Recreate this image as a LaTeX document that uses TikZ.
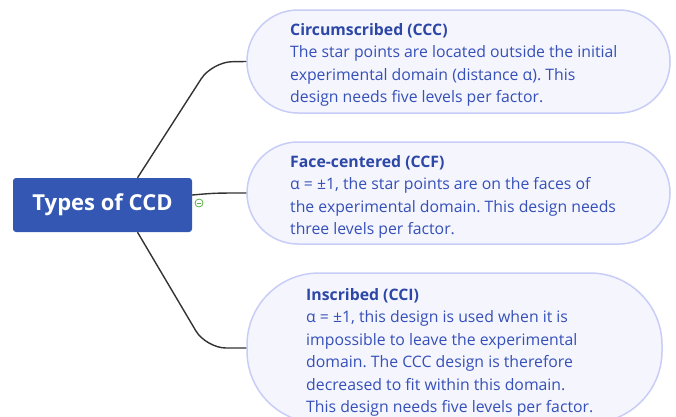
\documentclass[tikz,border=0pt]{standalone}
\usepackage{fontspec}
\setmainfont{Open Sans}
\usetikzlibrary{calc}
\definecolor{hubblue}{HTML}{3457B3}
\definecolor{bubfill}{HTML}{F5F5FE}
\definecolor{bubedge}{HTML}{C8CDF7}
\definecolor{txtblue}{HTML}{3550B8}
\definecolor{ttlblue}{HTML}{2C47A6}
\definecolor{linkgray}{HTML}{333333}
\definecolor{togglegreen}{HTML}{5DAF4C}
\tikzset{
  hub/.style={fill=hubblue, rounded corners=3pt, inner sep=0pt,
    minimum width=179pt, minimum height=54pt, text=white,
    font=\fontsize{22}{26}\selectfont\bfseries},
  bubble/.style={draw=bubedge, fill=bubfill, line width=1.5pt, inner sep=0pt},
  bodytext/.style={anchor=north west, inner sep=0pt, align=left, text=txtblue,
    font=\fontsize{15.8}{22.5}\selectfont},
  link/.style={draw=linkgray, line width=1.4pt, rounded corners=20pt},
}
\newcommand{\ttl}[1]{{\bfseries\color{ttlblue}#1}}
\frenchspacing
\begin{document}
\begin{tikzpicture}[x=1pt,y=-1pt]
\useasboundingbox (0,0) rectangle (676,416);

% topic bubbles
\node[bubble, rounded corners=51pt, minimum width=423pt, minimum height=103pt] (b1) at (458.5,61.5) {};
\node[bubble, rounded corners=51pt, minimum width=423pt, minimum height=102pt] (b2) at (458.5,193) {};
\node[bubble, rounded corners=72pt, minimum width=415pt, minimum height=150pt] (b3) at (454.5,348) {};

% central topic
\node[hub] (main) at (102.5,205) {Types of CCD};

% connectors
\coordinate (k1) at (212,62);
\coordinate (k3) at (206,348);
\draw[link] ([xshift=35pt]main.north) -- (k1) -- (b1.west);
\draw[link, rounded corners=0pt] ([yshift=10pt]main.east) .. controls (215,193) .. (b2.west);
\draw[link] ([xshift=35pt]main.south) -- (k3) -- (b3.west);

% collapse toggle
\node[circle, draw=togglegreen, fill=white, line width=0.8pt, minimum size=8pt, inner sep=0pt] (tog) at (199,203) {};
\draw[togglegreen, line width=0.8pt] ([xshift=-2.2pt]tog.center) -- ([xshift=2.2pt]tog.center);

% texts
\node[bodytext] (t1) at (290,23) {\ttl{Circumscribed (CCC)}\\
The star points are located outside the initial\\
experimental domain (distance α). This\\
design needs five levels per factor.};
\node[bodytext] (t2) at (290,155) {\ttl{Face-centered (CCF)}\\
α = ±1, the star points are on the faces of\\
the experimental domain. This design needs\\
three levels per factor.};
\node[bodytext] (t3) at (306,288) {\ttl{Inscribed (CCI)}\\
α = ±1, this design is used when it is\\
impossible to leave the experimental\\
domain. The CCC design is therefore\\
decreased to fit within this domain.\\
This design needs five levels per factor.};
\end{tikzpicture}
\end{document}
